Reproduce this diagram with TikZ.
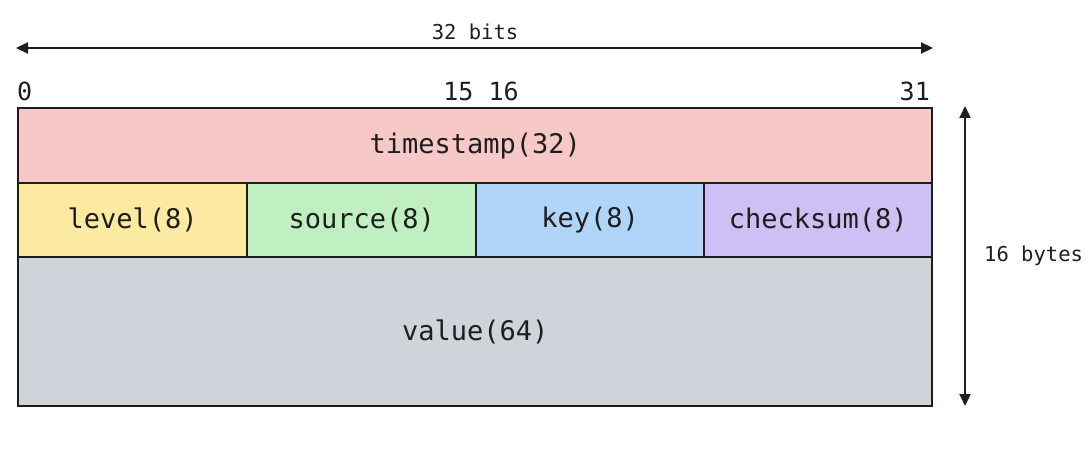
\documentclass[tikz,border=0pt]{standalone}
\usepackage{fontspec}
\setmonofont{DejaVu Sans Mono}
\usetikzlibrary{arrows.meta}
\definecolor{ink}{HTML}{1E1E1E}
\definecolor{cpink}{HTML}{F6C8C8}
\definecolor{cyellow}{HTML}{FCEAA2}
\definecolor{cgreen}{HTML}{C0EFC2}
\definecolor{cblue}{HTML}{B0D5F9}
\definecolor{cpurple}{HTML}{CEC0F5}
\definecolor{cgray}{HTML}{CFD4DB}
\begin{document}
\begin{tikzpicture}[x=1pt,y=-1pt,
  field/.style={draw=ink,line width=2.4pt,anchor=north west,inner sep=0pt,
    font=\ttfamily\fontsize{27}{31}\selectfont,text=ink},
  lbl/.style={font=\ttfamily\fontsize{20.5}{24}\selectfont,text=ink,inner sep=0pt},
  idx/.style={font=\ttfamily\fontsize{25}{30}\selectfont,text=ink,inner sep=0pt},
  dim/.style={draw=ink,line width=2.2pt,{Triangle[length=12pt,width=11pt]}-{Triangle[length=12pt,width=11pt]}}]
\useasboundingbox (0,0) rectangle (1089,449);
\node[field,fill=cgray,minimum width=914pt,minimum height=149pt] (value) at (17,256) {value(64)};
\node[field,fill=cpink,minimum width=914pt,minimum height=75pt] (ts) at (17,107) {timestamp(32)};
\node[field,fill=cyellow,minimum width=229pt,minimum height=74pt] (level) at (17,182) {level(8)};
\node[field,fill=cgreen,minimum width=229pt,minimum height=74pt] (source) at (246,182) {source(8)};
\node[field,fill=cblue,minimum width=228pt,minimum height=74pt] (key) at (475,182) {key(8)};
\node[field,fill=cpurple,minimum width=228pt,minimum height=74pt] (checksum) at (703,182) {checksum(8)};
\coordinate (hl) at (16,48);
\coordinate (hr) at (933,48);
\draw[dim] (hl) -- (hr);
\node[lbl] (bits) at (475,32) {32 bits};
\coordinate (vt) at (965,106);
\coordinate (vb) at (965,406);
\draw[dim] (vt) -- (vb);
\node[lbl,anchor=west] (bytes) at (984,256) {16 bytes};
\node[idx,anchor=south west] (i0) at (17,101) {0};
\node[idx,anchor=south] (i1516) at (481,101) {15 16};
\node[idx,anchor=south east] (i31) at (930,101) {31};
\end{tikzpicture}
\end{document}
